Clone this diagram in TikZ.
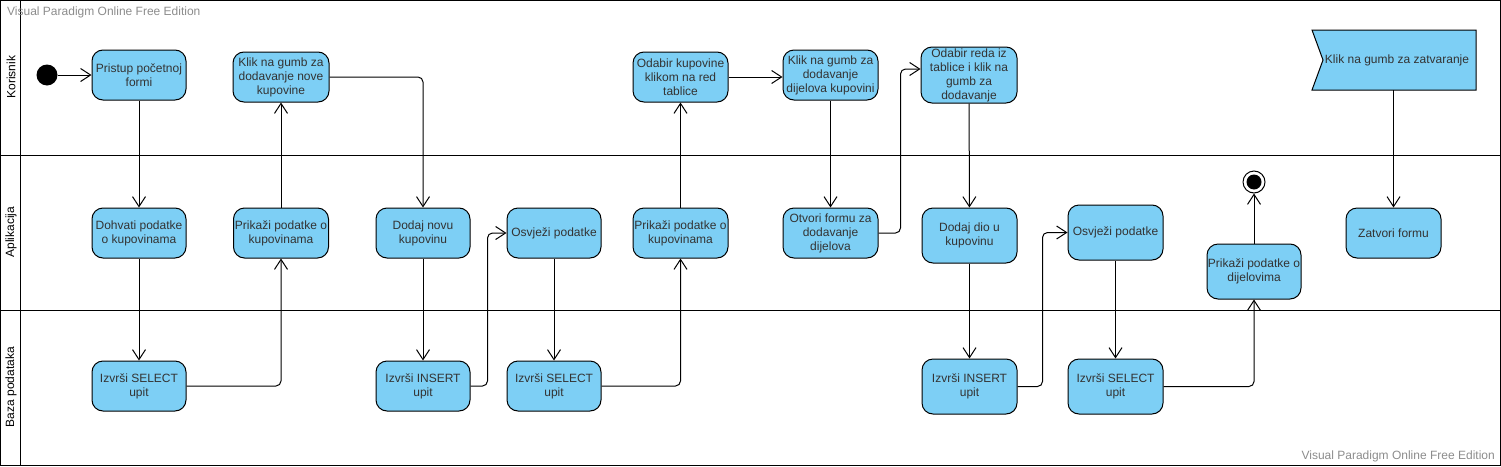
\documentclass[tikz,border=0pt]{standalone}
\usepackage{fontspec}
\setmainfont{Liberation Sans}
\usetikzlibrary{arrows.meta}
\definecolor{akcijaplava}{RGB}{125,207,245}
\definecolor{tekstsiva}{RGB}{51,51,51}
\definecolor{zigsiva}{RGB}{140,140,140}

\begin{document}
\begin{tikzpicture}[x=1pt,y=-1pt,
    akcija/.style={draw=black,line width=1pt,fill=akcijaplava,rounded corners=11pt,
        minimum width=94pt,minimum height=50pt,inner sep=0pt,align=center,
        text=tekstsiva,font=\fontsize{12}{14}\selectfont},
    pocetak/.style={circle,fill=black,minimum size=21pt,inner sep=0pt},
    kraj/.style={circle,draw=black,line width=1pt,fill=white,minimum size=22pt,inner sep=0pt,
        path picture={\fill[black] (path picture bounding box.center) circle (7.5pt);}},
    tok/.style={line width=1pt,-{Straight Barb[length=10pt,width=13pt]}},
    staza/.style={rotate=90,font=\fontsize{12}{14}\selectfont},
    zig/.style={text=zigsiva,inner sep=0pt,font=\fontsize{12}{14}\selectfont}]
    \useasboundingbox (0,0) rectangle (1501,466);
    \draw (0.5,0.5) rectangle (1500,465);
    \draw (20,0.5) -- (20,465);
    \draw (0.5,155) -- (1500,155);
    \draw (0.5,310) -- (1500,310);
    \node[staza] (korisnik) at (11,77) {Korisnik};
    \node[staza] (aplikacija) at (11,232) {Aplikacija};
    \node[staza] (baza) at (11,387) {Baza podataka};
    \node[zig,anchor=west] (zig1) at (7,12) {Visual Paradigm Online Free Edition};
    \node[zig,anchor=east] (zig2) at (1495,456) {Visual Paradigm Online Free Edition};

    \node[pocetak] (start) at (47,75) {};
    \node[akcija] (pristup) at (139,75) {Pristup početnoj\\formi};
    \node[akcija,minimum width=96pt] (kliknova) at (281,77) {Klik na gumb za\\dodavanje nove\\kupovine};
    \node[akcija,minimum width=95pt] (odabirkup) at (680.5,77) {Odabir kupovine\\klikom na red\\tablice};
    \node[akcija,minimum width=95pt] (klikdij) at (830.5,75) {Klik na gumb za\\dodavanje\\dijelova kupovini};
    \node[akcija,minimum width=96pt,minimum height=56pt] (odabirred) at (969,75) {Odabir reda iz\\tablice i klik na\\gumb za\\dodavanje};
    \fill[akcijaplava,draw=black,line width=1pt] (1312,30) -- (1476,30) -- (1476,90) -- (1312,90) -- (1323,60) -- cycle;
    \node[text=tekstsiva,font=\fontsize{12}{14}\selectfont] (klikzatv) at (1397,60) {Klik na gumb za zatvaranje};
    \coordinate (zastavadno) at (1393.5,90);

    \node[akcija] (dohvati) at (139,233) {Dohvati podatke\\o kupovinama};
    \node[akcija,minimum width=95pt] (prikaz1) at (281,233) {Prikaži podatke o\\kupovinama};
    \node[akcija] (dodajnovu) at (423,233) {Dodaj novu\\kupovinu};
    \node[akcija] (osvjezi1) at (554,233) {Osvježi podatke};
    \node[akcija,minimum width=95pt] (prikaz2) at (680.5,233) {Prikaži podatke o\\kupovinama};
    \node[akcija,minimum width=95pt] (otvori) at (830.5,233) {Otvori formu za\\dodavanje\\dijelova};
    \node[akcija,minimum width=95pt,minimum height=55pt] (dodajdio) at (969.5,235.5) {Dodaj dio u\\kupovinu};
    \node[akcija,minimum width=95pt,minimum height=55pt] (osvjezi2) at (1115.5,232.5) {Osvježi podatke};
    \node[akcija,minimum height=55pt] (prikazdij) at (1254,271.5) {Prikaži podatke o\\dijelovima};
    \node[kraj] (kraj) at (1254,182) {};
    \node[akcija,minimum width=95pt] (zatvori) at (1393.5,233) {Zatvori formu};

    \node[akcija] (select1) at (139,386) {Izvrši SELECT\\upit};
    \node[akcija] (insert1) at (423,386) {Izvrši INSERT\\upit};
    \node[akcija] (select2) at (554,386) {Izvrši SELECT\\upit};
    \node[akcija,minimum width=95pt,minimum height=55pt] (insert2) at (969.5,386.5) {Izvrši INSERT\\upit};
    \node[akcija,minimum width=95pt,minimum height=55pt] (select3) at (1115.5,386.5) {Izvrši SELECT\\upit};

    \draw[tok] (start) -- (pristup);
    \draw[tok] (pristup) -- (dohvati);
    \draw[tok] (dohvati) -- (select1);
    \draw[tok,rounded corners=5pt] (select1.east) -| (prikaz1.south);
    \draw[tok] (prikaz1) -- (kliknova);
    \draw[tok,rounded corners=5pt] (kliknova.east) -| (dodajnovu.north);
    \draw[tok] (dodajnovu) -- (insert1);
    \draw[tok,rounded corners=5pt] (insert1.east) -- ++(17,0) |- (osvjezi1.west);
    \draw[tok] (osvjezi1) -- (select2);
    \draw[tok,rounded corners=5pt] (select2.east) -| (prikaz2.south);
    \draw[tok] (prikaz2) -- (odabirkup);
    \draw[tok] (odabirkup.east) -- (odabirkup.east -| klikdij.west);
    \draw[tok] (klikdij) -- (otvori);
    \draw[tok,rounded corners=5pt] (otvori.east) -- ++(22,0) |- ([yshift=6pt]odabirred.west);
    \draw[tok] (odabirred) -- (dodajdio);
    \draw[tok] (dodajdio) -- (insert2);
    \draw[tok,rounded corners=5pt] (insert2.east) -- ++(25,0) |- (osvjezi2.west);
    \draw[tok] (osvjezi2) -- (select3);
    \draw[tok,rounded corners=5pt] (select3.east) -| (prikazdij.south);
    \draw[tok] (prikazdij) -- (kraj);
    \draw[tok] (zastavadno) -- (zatvori);
\end{tikzpicture}
\end{document}
